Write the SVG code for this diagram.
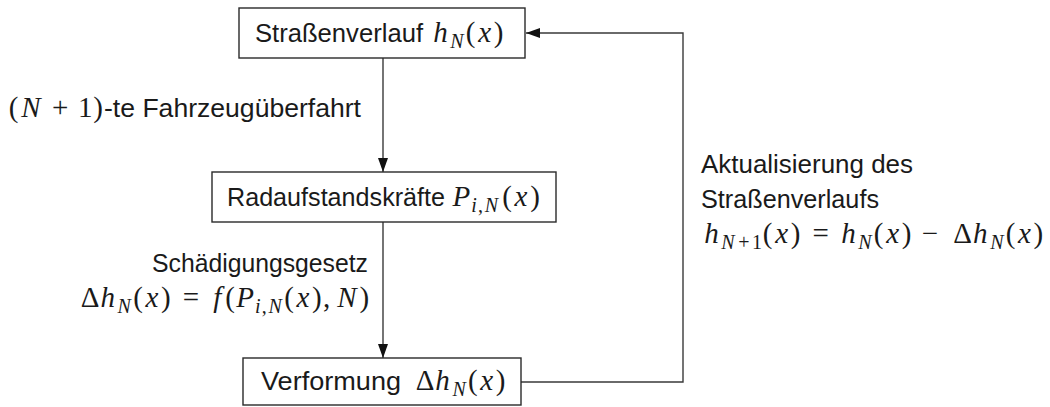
<svg xmlns="http://www.w3.org/2000/svg" width="1050" height="407" viewBox="0 0 1050 407">
<style>
.box{fill:#fff;stroke:#2a2a2a;stroke-width:1.4}
.ln{fill:none;stroke:#3a3a3a;stroke-width:1.4}
text{font-family:"Liberation Sans","DejaVu Sans",sans-serif;font-size:26px;fill:#1a1a1a}
text.m{font-family:"Liberation Serif","DejaVu Serif",serif;font-style:italic;font-size:29px}
.u{font-family:"Liberation Serif","DejaVu Serif",serif;font-style:normal;font-size:29px}
.mt text{text-anchor:middle}
text.s{font-size:20px}
</style>
<defs>
<marker id="ah" markerWidth="14" markerHeight="10" refX="14" refY="5" orient="auto" markerUnits="userSpaceOnUse">
<path d="M0,0 L14,5 L0,10 Z" fill="#111"/>
</marker>
</defs>
<g id="connectors">
<line class="ln" x1="383" y1="58" x2="383" y2="172" marker-end="url(#ah)"/>
<line class="ln" x1="383" y1="222" x2="383" y2="358" marker-end="url(#ah)"/>
<polyline class="ln" points="521,382 683,382 683,33 526,33" marker-end="url(#ah)"/>
</g>
<g id="node-strassenverlauf">
<rect class="box" x="239" y="8" width="286" height="50"/>
<text x="255" y="42" textLength="168" lengthAdjust="spacingAndGlyphs">Straßenverlauf</text>
<g class="mt">
<text class="m" x="440.4" y="42">h</text>
<text class="m s" x="456.9" y="48">N</text>
<text class="u" x="470.7" y="42">(</text>
<text class="m" x="484.7" y="42">x</text>
<text class="u" x="498.7" y="42">)</text>
</g>
</g>
<g id="node-radaufstandskraefte">
<rect class="box" x="212" y="172" width="344" height="50"/>
<text x="227" y="206" textLength="218" lengthAdjust="spacingAndGlyphs">Radaufstandskräfte</text>
<g class="mt">
<text class="m" x="461.3" y="206">P</text>
<text class="m s" x="474.1" y="212">i</text>
<text class="u s" x="480.4" y="212">,</text>
<text class="m s" x="491.4" y="212">N</text>
<text class="u" x="507" y="206">(</text>
<text class="m" x="521" y="206">x</text>
<text class="u" x="535" y="206">)</text>
</g>
</g>
<g id="node-verformung">
<rect class="box" x="243" y="358" width="278" height="47"/>
<text x="261" y="390" textLength="140" lengthAdjust="spacingAndGlyphs">Verformung</text>
<g class="mt">
<text class="u" x="425" y="390">Δ</text>
<text class="m" x="442.6" y="390">h</text>
<text class="m s" x="459.1" y="396">N</text>
<text class="u" x="472.9" y="390">(</text>
<text class="m" x="486.8" y="390">x</text>
<text class="u" x="500.7" y="390">)</text>
</g>
</g>
<g id="label-ueberfahrt">
<g class="mt">
<text class="u" x="13.7" y="117">(</text>
<text class="m" x="31" y="117">N</text>
<text class="u" x="60.3" y="117">+</text>
<text class="u" x="85.3" y="117">1</text>
<text class="u" x="98.2" y="117">)</text>
</g>
<text x="104" y="117" textLength="257" lengthAdjust="spacingAndGlyphs">-te Fahrzeugüberfahrt</text>
</g>
<g id="label-schaedigung">
<text x="152" y="272" textLength="216" lengthAdjust="spacingAndGlyphs">Schädigungsgesetz</text>
<g class="mt">
<text class="u" x="90" y="307">Δ</text>
<text class="m" x="107.7" y="307">h</text>
<text class="m s" x="124.2" y="313">N</text>
<text class="u" x="138" y="307">(</text>
<text class="m" x="151.9" y="307">x</text>
<text class="u" x="165.9" y="307">)</text>
<text class="u" x="190.9" y="307">=</text>
<text class="m" x="217.4" y="307">f</text>
<text class="u" x="230.2" y="307">(</text>
<text class="m" x="245.1" y="307">P</text>
<text class="m s" x="257.9" y="313">i</text>
<text class="u s" x="264.2" y="313">,</text>
<text class="m s" x="275.2" y="313">N</text>
<text class="u" x="289" y="307">(</text>
<text class="m" x="302.9" y="307">x</text>
<text class="u" x="316.9" y="307">)</text>
<text class="u" x="326.6" y="307">,</text>
<text class="m" x="347" y="307">N</text>
<text class="u" x="364.4" y="307">)</text>
</g>
</g>
<g id="label-aktualisierung">
<text x="701" y="173" textLength="212" lengthAdjust="spacingAndGlyphs">Aktualisierung des</text>
<text x="701" y="208" textLength="178" lengthAdjust="spacingAndGlyphs">Straßenverlaufs</text>
<g class="mt">
<text class="m" x="711.4" y="243">h</text>
<text class="m s" x="727.9" y="249">N</text>
<text class="u s" x="743.9" y="249">+</text>
<text class="u s" x="756.9" y="249">1</text>
<text class="u" x="767.7" y="243">(</text>
<text class="m" x="781.7" y="243">x</text>
<text class="u" x="795.7" y="243">)</text>
<text class="u" x="820.7" y="243">=</text>
<text class="m" x="848.4" y="243">h</text>
<text class="m s" x="864.9" y="249">N</text>
<text class="u" x="878.7" y="243">(</text>
<text class="m" x="892.7" y="243">x</text>
<text class="u" x="906.7" y="243">)</text>
<text class="u" x="930" y="243">−</text>
<text class="u" x="962.6" y="243">Δ</text>
<text class="m" x="980.3" y="243">h</text>
<text class="m s" x="996.8" y="249">N</text>
<text class="u" x="1010.6" y="243">(</text>
<text class="m" x="1024.5" y="243">x</text>
<text class="u" x="1038.4" y="243">)</text>
</g>
</g>
</svg>
